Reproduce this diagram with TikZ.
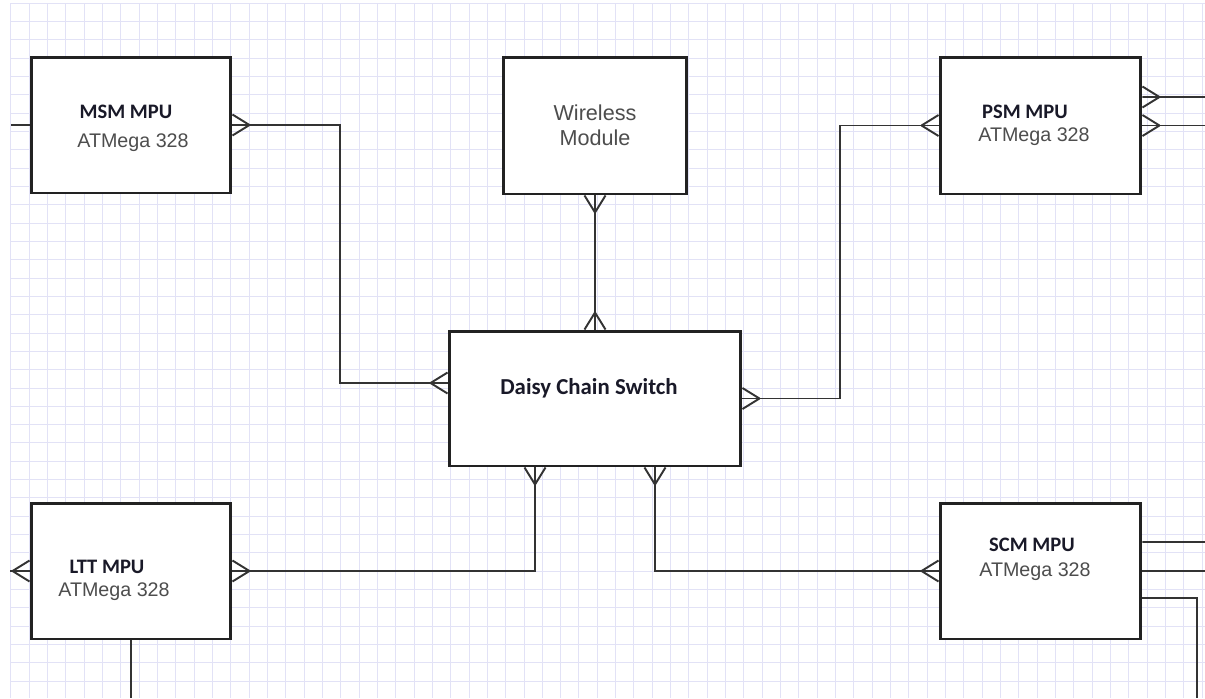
\documentclass[tikz,border=0pt]{standalone}
\usepackage{fontspec}
\setmainfont{Liberation Sans}
\newfontfamily\calibrifont{Carlito}
\usetikzlibrary{decorations.markings}
\definecolor{gridblue}{RGB}{226,226,246}
\definecolor{boxline}{RGB}{34,34,34}
\definecolor{linkgray}{RGB}{51,51,51}
\definecolor{textgray}{RGB}{77,77,77}
\definecolor{titledark}{RGB}{25,25,40}

\tikzset{
  mpubox/.style={draw=boxline, line width=1.7pt, fill=white, inner sep=0pt,
    minimum width=4cm, minimum height=2.72cm},
  mpulabel/.style={font=\calibrifont\bfseries\fontsize{11.7}{14}\selectfont,
    text=titledark, inner sep=0pt},
  chip/.style={font=\fontsize{11.2}{13}\selectfont, text=textgray, inner sep=0pt},
  link/.style={draw=linkgray, line width=1.1pt},
  gridline/.style={draw=gridblue, line width=0.5pt},
  crowend/.style={postaction={decorate, decoration={markings,
    mark=at position 1 with {\draw[link] (-0.34cm,0) -- (0,0.21cm) (-0.34cm,0) -- (0,-0.21cm);}}}},
  crowstart/.style={postaction={decorate, decoration={markings,
    mark=at position 0 with {\draw[link] (0.34cm,0) -- (0,0.21cm) (0.34cm,0) -- (0,-0.21cm);}}}},
}

\begin{document}
\begin{tikzpicture}[x=0.02cm, y=-0.02cm]
    \useasboundingbox (0,0) rectangle (1205,698);
    % grid paper
    \foreach \i in {0,...,65} {
      \draw[gridline] ({10.7+18.33*\i},3) -- ({10.7+18.33*\i},698);
    }
    \foreach \j in {0,...,37} {
      \draw[gridline] (10.7,{3+18.33*\j}) -- (1205,{3+18.33*\j});
    }

    % boxes
    \node[mpubox] (msm) at (131,125) {};
    \node[mpubox, minimum width=3.68cm, minimum height=2.74cm] (wireless) at (595,125.5) {};
    \node[mpubox, minimum width=4.02cm, minimum height=2.74cm] (psm) at (1040.5,125.5) {};
    \node[mpubox, minimum width=5.84cm, minimum height=2.7cm] (daisy) at (595,398.5) {};
    \node[mpubox] (ltt) at (131,571) {};
    \node[mpubox, minimum width=4.02cm] (scm) at (1040.5,571) {};

    % texts
    \node[mpulabel] (msmname) at (126,112) {MSM MPU};
    \node[chip] (msmchip) at (133,143) {ATMega 328};
    \node[chip, font=\fontsize{12.3}{14.2}\selectfont, align=center] (wirelessname) at (595,125.5) {Wireless\\Module};
    \node[mpulabel] (psmname) at (1025,112) {PSM MPU};
    \node[chip] (psmchip) at (1034,137) {ATMega 328};
    \node[mpulabel, font=\calibrifont\bfseries\fontsize{13}{15}\selectfont] (daisyname) at (589,388) {Daisy Chain Switch};
    \node[mpulabel] (lttname) at (107,567) {LTT MPU};
    \node[chip] (lttchip) at (114,592) {ATMega 328};
    \node[mpulabel] (scmname) at (1032,545) {SCM MPU};
    \node[chip] (scmchip) at (1035,572) {ATMega 328};

    % links to the switch
    \draw[link, crowstart, crowend] (msm.east) -- (340,125) |- ([yshift=0.31cm]daisy.west);
    \draw[link, crowstart, crowend] (wireless.south) -- (daisy.north);
    \draw[link, crowstart, crowend] (psm.west) -- (840,125.5) |- (daisy.east);
    \draw[link, crowstart, crowend] ([xshift=-1.2cm]daisy.south) |- (ltt.east);
    \draw[link, crowstart, crowend] ([xshift=1.2cm]daisy.south) |- (scm.west);

    % links leaving the page
    \coordinate (msmin) at (10.7,125);
    \coordinate (psmout1) at (1205,97);
    \coordinate (psmout2) at (1205,125.5);
    \coordinate (lttout) at (10,571);
    \coordinate (lttdown) at (131,698);
    \coordinate (scmout1) at (1205,542);
    \coordinate (scmout2) at (1205,571);
    \coordinate (scmbend) at (1197,698);
    \draw[link] (msm.west) -- (msmin);
    \draw[link, crowstart] ([yshift=0.57cm]psm.east) -- (psmout1);
    \draw[link, crowstart] (psm.east) -- (psmout2);
    \draw[link, crowstart] (ltt.west) -- (lttout);
    \draw[link] (ltt.south) -- (lttdown);
    \draw[link] ([yshift=0.58cm]scm.east) -- (scmout1);
    \draw[link] (scm.east) -- (scmout2);
    \draw[link] ([yshift=-0.54cm]scm.east) -| (scmbend);
\end{tikzpicture}
\end{document}
